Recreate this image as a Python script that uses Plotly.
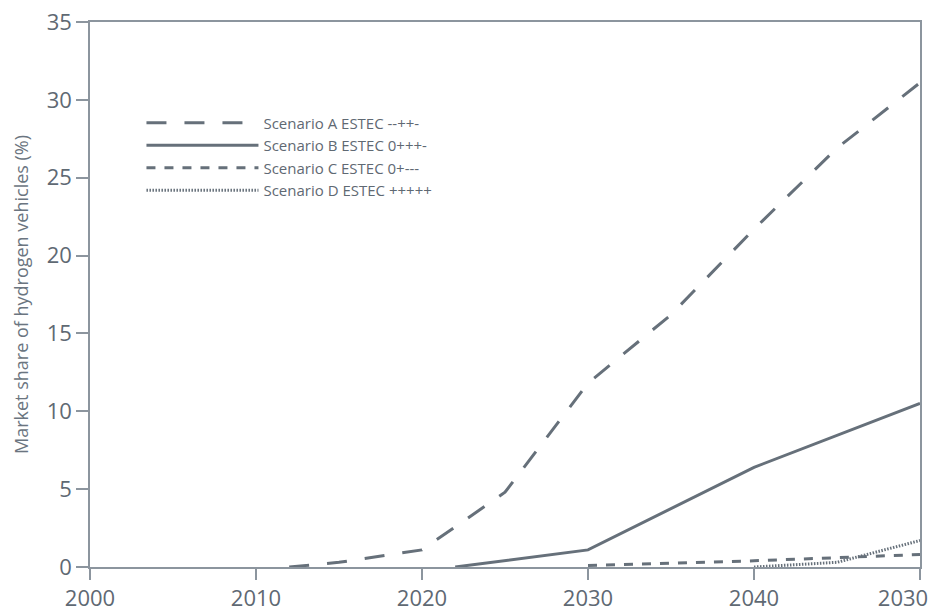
import plotly.graph_objects as go

# Data
years_a = [2012, 2015, 2020, 2025, 2030, 2035, 2040, 2045, 2050]
share_a = [0.0, 0.3, 1.1, 4.8, 11.8, 16.2, 21.7, 26.9, 31.1]

years_b = [2022, 2030, 2040, 2050]
share_b = [0.0, 1.1, 6.4, 10.5]

years_c = [2030, 2040, 2045, 2050]
share_c = [0.1, 0.4, 0.6, 0.8]

years_d = [2040, 2045, 2050]
share_d = [0.0, 0.3, 1.7]

names = ["Scenario A ESTEC --++-", "Scenario B ESTEC 0+++-",
         "Scenario C ESTEC 0+---", "Scenario D ESTEC +++++"]

tick_vals = [2000, 2010, 2020, 2030, 2040, 2050]
tick_text = ["2000", "2010", "2020", "2030", "2040", ""]
last_tick_val = [2050]
last_tick_text = ["2030"]

LINE = "#66707a"
AXIS = "#8c959e"
TEXT = "#5f6973"
FONT = "Open Sans"

fig = go.Figure()
fig.add_trace(go.Scatter(x=years_a, y=share_a, mode="lines", name=names[0],
                         line=dict(color=LINE, width=3, dash="20px,18px")))
fig.add_trace(go.Scatter(x=years_b, y=share_b, mode="lines", name=names[1],
                         line=dict(color=LINE, width=3, dash="solid")))
fig.add_trace(go.Scatter(x=years_c, y=share_c, mode="lines", name=names[2],
                         line=dict(color=LINE, width=3, dash="9px,9px")))
fig.add_trace(go.Scatter(x=years_d, y=share_d, mode="lines", name=names[3],
                         line=dict(color=LINE, width=3, dash="1.5px,1.5px")))
# empty helper trace so the overlay axis carrying the last tick label exists
fig.add_trace(go.Scatter(x=[], y=[], xaxis="x2", showlegend=False,
                         hoverinfo="skip"))

fig.update_layout(
    width=930, height=607,
    margin=dict(l=90, r=10, t=22, b=40),
    paper_bgcolor="white", plot_bgcolor="white",
    font=dict(family=FONT, color=TEXT),
    showlegend=True,
    legend=dict(x=0.062, y=0.845, xanchor="left", yanchor="top",
                bgcolor="rgba(0,0,0,0)", font=dict(size=15, color=TEXT),
                itemwidth=112, tracegroupgap=0),
    xaxis=dict(range=[2000, 2050], tickvals=tick_vals, ticktext=tick_text,
               showgrid=False, zeroline=False, showline=True, linecolor=AXIS,
               linewidth=1.5, mirror=True, ticks="outside", ticklen=11,
               tickcolor=AXIS, tickwidth=1.5, automargin=False,
               ticklabelstandoff=0,
               tickfont=dict(size=22, color=TEXT, family=FONT)),
    xaxis2=dict(range=[2000, 2050], overlaying="x", anchor="y", side="bottom",
                tickvals=last_tick_val, ticktext=last_tick_text,
                showgrid=False, zeroline=False, showline=False, ticks="",
                automargin=False, ticklabelstandoff=16, ticklabelshift=-17,
                tickfont=dict(size=22, color=TEXT, family=FONT)),
    yaxis=dict(range=[0, 35], dtick=5, showgrid=False, zeroline=False,
               showline=True, linecolor=AXIS, linewidth=1.5, mirror=True,
               ticks="outside", ticklen=12, tickcolor=AXIS, tickwidth=1.5,
               automargin=False,
               tickfont=dict(size=22, color=TEXT, family=FONT),
               title=dict(text="Market share of hydrogen vehicles (%)",
                          font=dict(size=18, color="#6b7580", family=FONT),
                          standoff=13)),
)

fig.write_html("out.html", config={"displayModeBar": False},
               post_script="document.body.style.margin='0';"
                           "document.body.style.overflow='hidden';")
